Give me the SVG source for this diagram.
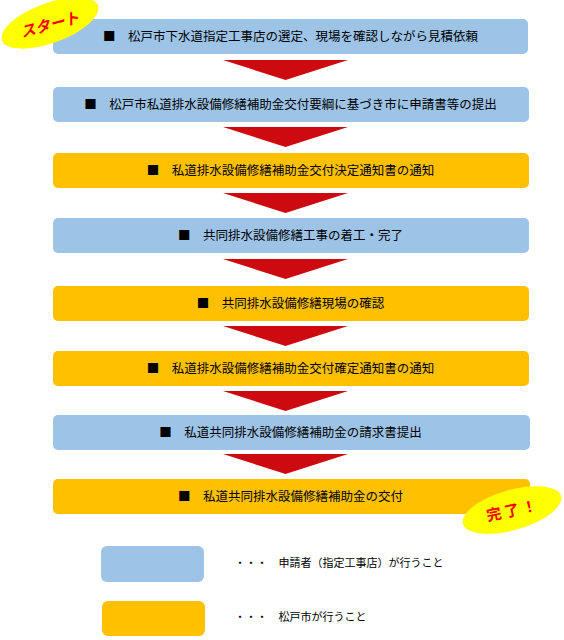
<svg xmlns="http://www.w3.org/2000/svg" width="564" height="640" viewBox="0 0 564 640">
<style>
.b{fill:#9DC3E6}
.y{fill:#FFC000}
.t{font-family:"Noto Sans CJK JP","Noto Sans",sans-serif;font-size:12.5px;fill:#000;text-anchor:middle}
.l{font-family:"Noto Sans CJK JP","Noto Sans",sans-serif;font-size:11px;fill:#000}
.a{fill:#CC0A0F}
.e{fill:#FFFF00}
.r{font-family:"Noto Sans CJK JP","Noto Sans",sans-serif;font-weight:bold;font-size:15px;fill:#FF0000;text-anchor:middle}
</style>
<rect width="564" height="640" fill="#fff"/>
<g id="connectors">
<polygon class="a" points="223,60 348,60 285.5,80"/>
<polygon class="a" points="223,127 348,127 285.5,147"/>
<polygon class="a" points="223,193 348,193 285.5,213"/>
<polygon class="a" points="223,259 348,259 285.5,279"/>
<polygon class="a" points="223,326 348,326 285.5,346"/>
<polygon class="a" points="223,391 348,391 285.5,411"/>
<polygon class="a" points="223,454 348,454 285.5,474"/>
</g>
<g id="n1"><rect class="b" x="53" y="19" width="475" height="35" rx="5"/><text class="t" x="290.5" y="41">■　松戸市下水道指定工事店の選定、現場を確認しながら見積依頼</text></g>
<g id="n2"><rect class="b" x="53" y="87" width="476" height="35" rx="5"/><text class="t" x="290.5" y="109">■　松戸市私道排水設備修繕補助金交付要綱に基づき市に申請書等の提出</text></g>
<g id="n3"><rect class="y" x="53" y="153" width="476" height="35" rx="5"/><text class="t" x="290.5" y="175">■　私道排水設備修繕補助金交付決定通知書の通知</text></g>
<g id="n4"><rect class="b" x="53" y="218" width="476" height="35" rx="5"/><text class="t" x="290.5" y="240">■　共同排水設備修繕工事の着工・完了</text></g>
<g id="n5"><rect class="y" x="53" y="286" width="476" height="35" rx="5"/><text class="t" x="290.5" y="308">■　共同排水設備修繕現場の確認</text></g>
<g id="n6"><rect class="y" x="53" y="351" width="476" height="35" rx="5"/><text class="t" x="290.5" y="373">■　私道排水設備修繕補助金交付確定通知書の通知</text></g>
<g id="n7"><rect class="b" x="53" y="415" width="477" height="35" rx="5"/><text class="t" x="290.5" y="437">■　私道共同排水設備修繕補助金の請求書提出</text></g>
<g id="n8"><rect class="y" x="53" y="479" width="477" height="35" rx="5"/><text class="t" x="290.5" y="501">■　私道共同排水設備修繕補助金の交付</text></g>
<g id="start"><ellipse class="e" cx="50" cy="23" rx="51" ry="20" transform="rotate(-20 50 23)"/><text class="r" x="50" y="30" font-style="italic" transform="rotate(-15 50 25)">スタート</text></g>
<g id="end"><ellipse class="e" cx="512" cy="510" rx="51" ry="20" transform="rotate(-16 512 510)"/><text class="r" x="513" y="516" letter-spacing="3" transform="rotate(-12 512 510)">完了！</text></g>
<g id="legend1"><rect class="b" x="101" y="546" width="103" height="36" rx="6"/><text class="l" x="234.5" y="567">・・・　申請者（指定工事店）が行うこと</text></g>
<g id="legend2"><rect class="y" x="102" y="601" width="103" height="35" rx="6"/><text class="l" x="234.5" y="621">・・・　松戸市が行うこと</text></g>
</svg>
